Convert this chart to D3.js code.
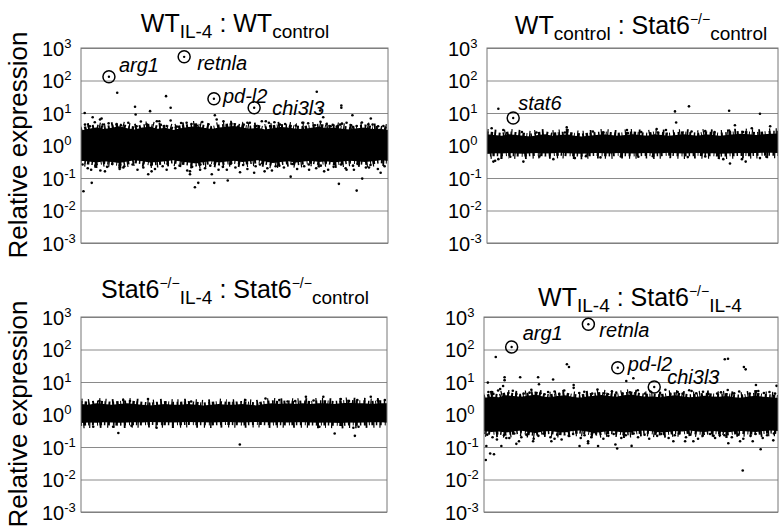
<!DOCTYPE html>
<html>
<head>
<meta charset="utf-8">
<script src="https://cdn.jsdelivr.net/npm/d3@7"></script>
<style>
  body { margin: 0; background: #fff; }
  text { font-family: "Liberation Sans", Arial, sans-serif; fill: #000; }
</style>
</head>
<body>
<script>

// y ticks (decades) and their exponents
const yTicks = [1e-3, 1e-2, 1e-1, 1e0, 1e1, 1e2, 1e3];
const yExponents = ["-3", "-2", "-1", "0", "1", "2", "3"];

// gene index bins (percent along the array) used for the dense band
const bins = [0,2.5,5,7.5,10,12.5,15,17.5,20,22.5,25,27.5,30,32.5,35,37.5,40,42.5,45,47.5,50,
              52.5,55,57.5,60,62.5,65,67.5,70,72.5,75,77.5,80,82.5,85,87.5,90,92.5,95,97.5,100];

// WT IL-4 : WT control -- band edges
const wtIl4Upper = [2.9,3.3,3.6,3.2,3.5,3.9,3.4,3.1,3.6,3.8,3.3,3.5,3.0,3.4,3.7,3.9,3.5,3.2,3.6,3.8,4.0,
                    3.6,3.3,3.5,3.1,3.4,3.7,3.6,3.3,3.2,3.5,3.8,3.4,3.6,3.3,3.1,3.4,3.6,3.2,3.3,3.0];
const wtIl4Lower = [0.34,0.32,0.30,0.33,0.31,0.29,0.32,0.35,0.33,0.30,0.31,0.33,0.35,0.32,0.30,0.28,0.31,0.33,0.30,0.32,0.34,
                    0.31,0.33,0.35,0.32,0.29,0.31,0.33,0.30,0.32,0.34,0.31,0.33,0.30,0.32,0.34,0.33,0.31,0.33,0.35,0.34];
// scattered genes [index, relative expression]
const wtIl4Dots = [
  [11.8,42],[17.6,15.5],[17.8,9],[22.5,11.4],[27.7,33],[29.2,14.5],[1.2,10],[3.8,7.4],[6.7,6.8],[7.1,4.4],
  [25.5,5.6],[29.2,5.9],[43.6,8.5],[46.4,5.6],[76.8,45],[84.8,17],[84.8,14.5],[77.9,12],[78.9,7.4],[88.4,8.5],
  [94.4,6.8],[60.2,5.6],[61.2,5.0],[54.2,5.0],[84.4,4.4],[72.1,5.0],[81.3,3.9],
  [0.8,0.039],[3.5,0.071],[37.1,0.052],[38.2,0.071],[43.4,0.071],[47.8,0.084],[21.9,0.13],[23.0,0.16],
  [35.5,0.13],[35.5,0.16],[42.6,0.13],[7.8,0.16],[3.3,0.18],[47.5,0.18],[38.8,0.18],[13.8,0.21],[27.9,0.18],
  [84,0.066],[89.8,0.041],[91.6,0.096],[97.6,0.145],[68.3,0.11],[74.3,0.18],[56.4,0.145],[59.8,0.16],
  [63.4,0.23],[51.8,0.15],[86.5,0.18],[88.9,0.18],[93.8,0.21],[79.2,0.16],
  [1.3,4.4],[2.9,3.9],[4.5,5.2],[6.2,6.3],[9,4.8],[11.6,4.6],[13,4.2],[15.4,5.0],[18.1,3.9],[19.5,5.5],
  [21.4,4.5],[24.7,5.6],[26,4.3],[27.9,4.0],[31.2,3.8],[32.6,4.9],[34.4,5.0],[36,4.6],[37.7,4.1],[39.5,5.3],
  [41.5,4.5],[44.2,6.3],[47.5,4.0],[49,4.7],[51.2,3.8],[53,4.4],[55,5.0],[57,4.0],[58.9,5.6],[61.6,4.0],
  [63,5.2],[64.8,4.4],[66.5,4.6],[68.1,3.9],[70,4.1],[72.4,5.0],[74,4.8],[76.2,4.2],[78,5.4],[80,4.6],
  [82,4.3],[83.3,3.8],[85,4.7],[86.5,5.0],[88,4.2],[89.8,4.0],[91.5,5.1],[93.6,4.5],[95,4.4],[96.8,3.9],[98.5,4.0],
  [0.5,0.26],[2.2,0.2],[4.7,0.24],[6.3,0.17],[8.5,0.22],[10.2,0.27],[12.6,0.19],[14.1,0.23],[16.8,0.26],[18.4,0.18],
  [20.3,0.21],[22.9,0.25],[24.1,0.19],[26.6,0.23],[28.2,0.27],[30.7,0.2],[32.1,0.24],[34.6,0.17],[36.2,0.22],[38.9,0.26],
  [40.4,0.2],[42.1,0.24],[44.8,0.18],[46.2,0.22],[48.7,0.27],[50.3,0.21],[52.8,0.25],[54.2,0.19],[56.9,0.23],[58.3,0.26],
  [60.7,0.2],[62.2,0.17],[64.6,0.24],[66.1,0.21],[68.8,0.27],[70.4,0.19],[72.7,0.23],[74.2,0.26],[76.6,0.2],[78.1,0.24],
  [80.5,0.18],[82.3,0.22],[84.7,0.26],[86.2,0.2],[88.6,0.24],[90.1,0.27],[92.8,0.21],[94.3,0.25],[96.7,0.19],[98.9,0.23]
];
const wtIl4Genes = [
  {gene: "arg1", index: 9.1, value: 130},
  {gene: "retnla", index: 33.6, value: 535},
  {gene: "pd-l2", index: 43.3, value: 27.5},
  {gene: "chi3l3", index: 56.4, value: 14.5}
];

// WT control : Stat6-/- control
const ctlUpper = [2.2,2.1,2.0,2.2,2.1,2.0,1.9,2.1,2.2,2.0,2.1,2.2,2.0,1.9,2.0,2.1,2.2,2.1,2.0,2.1,2.2,
                  2.1,2.0,2.2,2.1,2.0,2.1,2.2,2.1,2.0,2.2,2.1,2.0,2.1,2.2,2.3,2.2,2.1,2.2,2.3,2.3];
const ctlLower = [0.56,0.58,0.57,0.59,0.57,0.56,0.58,0.59,0.57,0.58,0.60,0.58,0.57,0.56,0.58,0.59,0.58,0.57,0.59,0.58,0.57,
                  0.58,0.59,0.57,0.58,0.60,0.58,0.57,0.58,0.59,0.57,0.58,0.56,0.57,0.58,0.59,0.58,0.59,0.60,0.60,0.59];
const ctlDots = [
  [3.9,13.5],[64.6,11.2],[65,5.1],[69.4,16],[83.2,11.7],[93.8,9.5],[85.2,4.2],[83.2,2.9],[83.5,2.6],
  [1.6,3.4],[5.6,3.0],[27.4,3.6],[48.1,3.0],[58.3,3.2],[61.5,3.0],[97.3,3.9],
  [26.8,2.5],[36.4,2.7],[48.4,2.4],[58.7,2.5],[70.3,2.7],[78.2,2.6],[91,3.4],[12,2.6],[17,2.5],[40,2.5],[53,2.6],[75,2.8],[88,2.6],
  [83.5,0.28],[88.9,0.32],[87.6,0.38],[2.2,0.32],[3.9,0.38],[12.5,0.32],[22.8,0.38],[30.2,0.41],[39,0.43],
  [81.2,0.38],[93.8,0.41],[2.8,0.34],[8,0.45],[18,0.46],[34,0.47],[46,0.46],[52,0.45],[57,0.47],[69,0.44],[75,0.46],[96,0.45]
];
const ctlGenes = [
  {gene: "stat6", index: 9.0, value: 7}
];

// Stat6-/- IL-4 : Stat6-/- control
const s6Upper = [2.1,2.0,2.2,2.1,2.0,2.1,2.2,2.1,2.0,1.9,2.0,2.1,2.0,2.0,2.1,2.0,1.9,2.0,2.1,2.0,2.0,
                 2.1,2.0,1.9,2.1,2.2,2.1,2.2,2.1,2.2,2.1,2.2,2.2,2.1,2.2,2.3,2.2,2.2,2.1,2.2,2.2];
const s6Lower = [0.55,0.57,0.56,0.58,0.57,0.56,0.57,0.58,0.57,0.59,0.58,0.58,0.57,0.58,0.59,0.58,0.58,0.57,0.58,0.59,0.58,
                 0.57,0.58,0.59,0.58,0.57,0.58,0.57,0.58,0.58,0.57,0.56,0.57,0.56,0.55,0.57,0.56,0.57,0.58,0.58,0.57];
const s6Dots = [
  [51.9,0.12],[82.9,0.26],[89.5,0.22],[12.2,0.27],[89,0.39],[90.7,0.42],[10.5,0.42],[24.7,0.39],[4.0,0.42],
  [16.5,0.45],[77.9,0.42],[60.3,3.1],[73.5,3.5],[79.2,3.5],[94.7,3.5],[99.3,2.8],[13.8,2.8],[16,2.6],[21.9,3.0],
  [84.9,3.0],[87.6,2.6],[90.3,2.8],[64.8,2.8],[67.5,2.5],[36,2.5],[53.7,2.8],[70,2.6],[76,2.7],[97,2.7],[6,2.6]
];

// WT IL-4 : Stat6-/- IL-4
const wtS6Upper = [3.2,3.6,3.4,3.9,3.7,3.5,3.8,4.1,3.6,3.4,3.7,3.9,3.5,3.3,3.6,3.8,4.0,3.7,3.5,3.9,4.1,
                   3.8,3.5,3.6,3.4,3.7,3.9,3.6,3.4,3.5,3.8,3.6,3.5,3.7,3.4,3.3,3.6,3.8,3.5,3.4,3.2];
const wtS6Lower = [0.31,0.29,0.30,0.28,0.30,0.32,0.29,0.27,0.30,0.31,0.29,0.28,0.31,0.32,0.30,0.27,0.29,0.31,0.30,0.28,0.29,
                   0.31,0.32,0.30,0.28,0.29,0.31,0.30,0.32,0.30,0.29,0.31,0.30,0.28,0.30,0.31,0.30,0.29,0.31,0.32,0.31];
const wtS6Dots = [
  [4,59],[28.9,29],[28.2,35],[7.0,14],[7.0,11.4],[12.3,14],[18.4,14],[23.5,12],[18.7,8.5],[30.5,8.1],[30.5,6.6],
  [1.3,9.6],[6.5,7.5],[4.8,5.5],[11,4.3],[15.5,4.7],[20.6,4.2],[24,5.1],[42.2,4.2],[45,4.7],[48.4,10.7],
  [81.9,50],[83,52],[88.4,29],[89,24.5],[78.9,14],[92.5,8.1],[99.5,7.6],[70.6,5.3],[79.3,4.4],[50.8,13],
  [0.6,0.04],[2.1,0.063],[3.4,0.06],[0.8,0.107],[5.9,0.107],[11,0.125],[11.9,0.15],[22.9,0.15],[24,0.18],
  [32.5,0.107],[38.8,0.107],[45.3,0.09],[44.7,0.12],[35.4,0.13],[35.4,0.15],[16.7,0.15],[7.6,0.19],
  [88,0.019],[94.1,0.085],[50.2,0.108],[64.4,0.15],[68.4,0.15],[71.2,0.15],[83.1,0.13],[87.1,0.15],[91.4,0.15],
  [98.4,0.16],[78.1,0.22],[81.8,0.23],[55.1,0.35],[58.5,0.3],
  [1.5,4.9],[3.2,4.3],[5.5,6.1],[8.3,4.6],[9.8,5.4],[13.5,4.4],[16.1,5.8],[19.2,4.5],[21.8,4.9],[25.6,4.3],
  [27.3,5.5],[32.4,4.6],[34.1,5.0],[36.8,4.4],[38.6,5.9],[40.9,4.5],[43.5,5.2],[47.1,4.4],[49.6,4.8],[52.3,5.6],
  [54.8,4.4],[56.6,5.1],[59.9,4.6],[61.7,5.8],[63.4,4.3],[65.9,4.9],[67.6,4.4],[69.8,5.6],[72.2,4.5],[74.5,5.0],
  [76.3,4.3],[80.6,4.8],[82.9,5.7],[85.1,4.5],[86.8,5.1],[90.4,4.4],[93.3,5.3],[95.2,4.6],[97.1,4.9],[99,4.4],
  [1.1,0.24],[2.9,0.2],[4.4,0.17],[6.8,0.23],[8.6,0.19],[10.3,0.26],[12.7,0.2],[14.4,0.24],[16.9,0.18],[18.5,0.22],
  [20.2,0.26],[22.6,0.2],[24.9,0.24],[26.4,0.17],[28.8,0.22],[30.3,0.25],[32.9,0.19],[34.2,0.23],[36.5,0.2],[38.1,0.26],
  [40.6,0.18],[42.3,0.22],[44.1,0.25],[46.7,0.19],[48.2,0.23],[50.9,0.26],[52.4,0.2],[54.6,0.24],[56.2,0.18],[58.9,0.22],
  [60.3,0.25],[62.8,0.19],[64.9,0.23],[66.3,0.26],[68.7,0.2],[70.2,0.24],[72.8,0.18],[74.4,0.22],[76.9,0.25],[78.6,0.19],
  [80.2,0.23],[82.6,0.26],[84.3,0.2],[86.6,0.24],[88.2,0.18],[90.7,0.22],[92.4,0.25],[94.8,0.19],[96.3,0.23],[98.6,0.26]
];
const wtS6Genes = [
  {gene: "arg1", index: 9.4, value: 120},
  {gene: "retnla", index: 35.5, value: 600},
  {gene: "pd-l2", index: 45.5, value: 27.6},
  {gene: "chi3l3", index: 57.9, value: 7.0}
];

// titles: [text, kind] with kind "" | "sub" | "sup"
const title1 = [["WT",""],["IL-4","sub"],[" : WT",""],["control","sub"]];
const title2 = [["WT",""],["control","sub"],[" : Stat6",""],["\u2212/\u2212","sup"],["control","sub"]];
const title3 = [["Stat6",""],["\u2212/\u2212","sup"],["IL-4","sub"],[" : Stat6",""],["\u2212/\u2212","sup"],["control","sub"]];
const title4 = [["WT",""],["IL-4","sub"],[" : Stat6",""],["\u2212/\u2212","sup"],["IL-4","sub"]];

const yLabel = "Relative expression";

// layout
const W = 779, H = 527;
const panels = [
  {box: [81, 388, 48, 243], tx: 235, ty: 32, title: title1, up: wtIl4Upper, lo: wtIl4Lower, dots: wtIl4Dots, genes: wtIl4Genes,
   offs: {"arg1": [10, -5], "retnla": [13, 13], "pd-l2": [9, 4], "chi3l3": [18, 7]}},
  {box: [487, 778, 48, 243], tx: 641, ty: 34, title: title2, up: ctlUpper, lo: ctlLower, dots: ctlDots, genes: ctlGenes,
   offs: {"stat6": [5, -8]}},
  {box: [81, 387, 317, 512], tx: 235, ty: 298, title: title3, up: s6Upper, lo: s6Lower, dots: s6Dots, genes: [],
   offs: {}},
  {box: [484, 778, 317, 512], tx: 640, ty: 306, title: title4, up: wtS6Upper, lo: wtS6Lower, dots: wtS6Dots, genes: wtS6Genes,
   offs: {"arg1": [11, -7], "retnla": [11, 13], "pd-l2": [10, 3], "chi3l3": [13, -3]}}
];

const svg = d3.select("body").append("svg")
    .attr("width", W)
    .attr("height", H);

panels.forEach(function(p) {
  const [x0, x1, y0, y1] = p.box;
  const x = d3.scaleLinear().domain([0, 100]).range([x0, x1]);
  const y = d3.scaleLog().domain([1e-3, 1e3]).range([y1, y0]);

  // clip so the speckled band edge stays inside the frame
  const clipId = "clip" + x0 + "_" + y0;
  svg.append("clipPath").attr("id", clipId)
    .append("rect")
      .attr("x", x0).attr("y", y0)
      .attr("width", x1 - x0).attr("height", y1 - y0);

  // gridlines
  svg.append("g")
      .attr("transform", "translate(" + x0 + ",0)")
      .call(d3.axisLeft(y).tickValues(yTicks).tickSize(-(x1 - x0)).tickFormat(""))
      .call(g => g.select(".domain").remove())
      .call(g => g.selectAll("line").attr("stroke", "#8a8a8a").attr("stroke-width", 1));

  // tick labels 10^n
  const ax = svg.append("g")
      .attr("transform", "translate(" + x0 + ",0)")
      .call(d3.axisLeft(y).tickValues(yTicks).tickSize(0).tickFormat(""))
      .call(g => g.select(".domain").remove());
  ax.selectAll(".tick text").remove();
  ax.selectAll(".tick").append("text")
      .attr("x", -39)
      .attr("dy", 7)
      .attr("text-anchor", "start")
      .style("font-size", "20px")
      .each(function(d, i) {
        const t = d3.select(this);
        t.append("tspan").text("10");
        t.append("tspan").attr("dy", -8).style("font-size", "13px").text(yExponents[i]);
      });

  const plot = svg.append("g").attr("clip-path", "url(#" + clipId + ")");

  // dense band of genes, with a speckled edge
  const band = d3.area()
      .x((d, i) => x(bins[i]))
      .y0((d, i) => y(p.lo[i]))
      .y1((d, i) => y(p.up[i]));
  plot.append("path")
      .datum(bins)
      .attr("d", band)
      .attr("fill", "#000");
  plot.append("path")
      .datum(bins)
      .attr("d", band)
      .attr("fill", "none")
      .attr("stroke", "#000")
      .attr("stroke-width", 6)
      .attr("stroke-dasharray", "1.5 2 2.5 1.5 1 3 2 2.5");
  plot.append("path")
      .datum(bins)
      .attr("d", band)
      .attr("fill", "none")
      .attr("stroke", "#000")
      .attr("stroke-width", 11)
      .attr("stroke-dasharray", "1.2 6 1.8 9 1.2 5");

  // scattered genes
  plot.append("g").selectAll("circle")
      .data(p.dots)
      .enter().append("circle")
      .attr("cx", d => x(d[0]))
      .attr("cy", d => y(d[1]))
      .attr("r", 1.3)
      .attr("fill", "#000");

  // frame
  svg.append("rect")
      .attr("x", x0).attr("y", y0)
      .attr("width", x1 - x0).attr("height", y1 - y0)
      .attr("fill", "none")
      .attr("stroke", "#777")
      .attr("stroke-width", 1);

  // highlighted genes
  const gg = svg.append("g").selectAll("g")
      .data(p.genes)
      .enter().append("g")
      .attr("transform", d => "translate(" + x(d.index) + "," + y(d.value) + ")");
  gg.append("circle")
      .attr("r", 6)
      .attr("fill", "none")
      .attr("stroke", "#000")
      .attr("stroke-width", 1.5);
  gg.append("circle")
      .attr("r", 1.2)
      .attr("fill", "#000");
  gg.append("text")
      .attr("x", d => p.offs[d.gene][0])
      .attr("y", d => p.offs[d.gene][1])
      .style("font-size", "20px")
      .style("font-style", "italic")
      .text(d => d.gene);

  // title
  const tt = svg.append("text")
      .attr("x", p.tx)
      .attr("y", p.ty)
      .attr("text-anchor", "middle")
      .style("font-size", "25px");
  let shift = 0;
  p.title.forEach(function(part) {
    const s = tt.append("tspan").text(part[0]);
    let target = 0;
    if (part[1] === "sub") { target = 6; s.style("font-size", "19px"); }
    if (part[1] === "sup") { target = -10; s.style("font-size", "14px"); }
    s.attr("dy", target - shift);
    shift = target;
  });
});

// y axis labels
[145, 414].forEach(function(cy) {
  svg.append("text")
      .attr("transform", "translate(27," + cy + ") rotate(-90)")
      .attr("text-anchor", "middle")
      .style("font-size", "26px")
      .text(yLabel);
});

</script>
</body>
</html>
